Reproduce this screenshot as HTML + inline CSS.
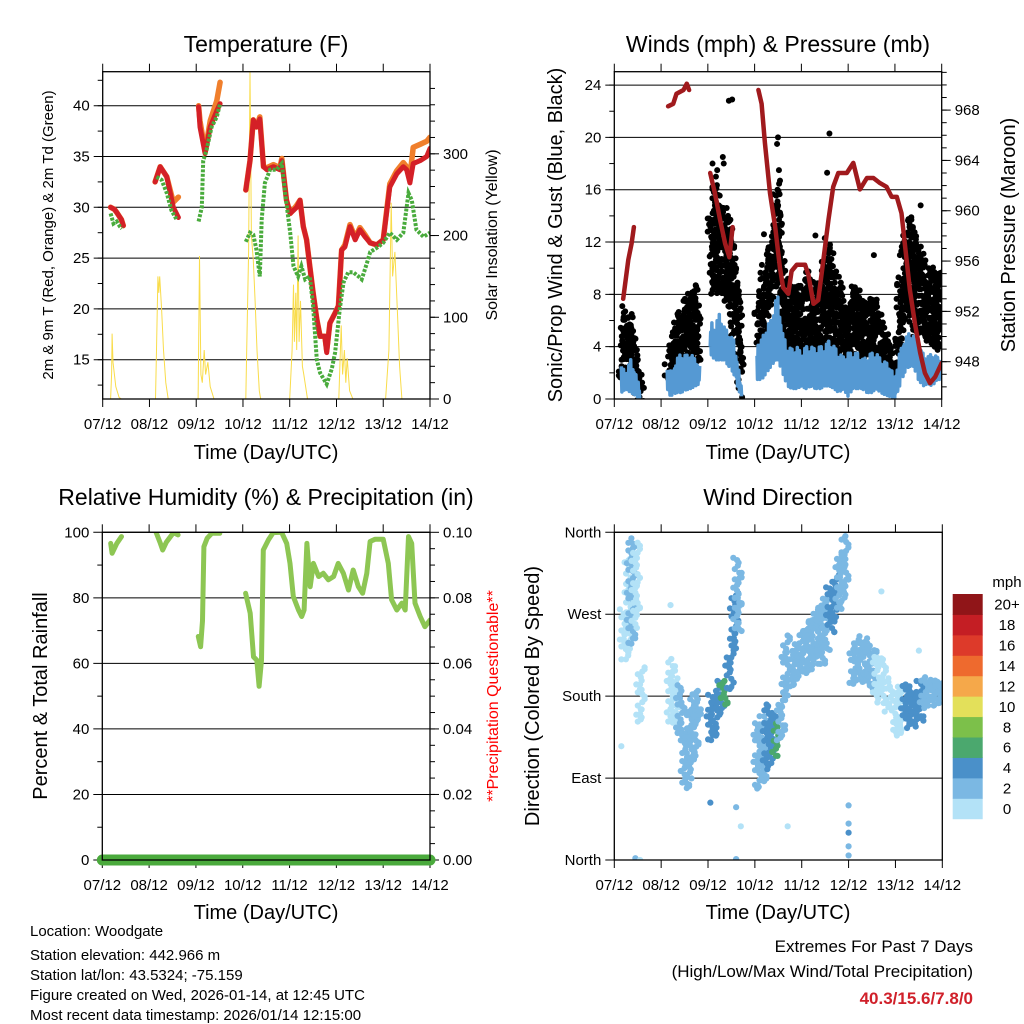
<!DOCTYPE html>
<html><head><meta charset="utf-8"><title>Station Meteogram</title>
<style>
html,body{margin:0;padding:0;background:#fff;}
svg{display:block;font-family:"Liberation Sans",Arial,sans-serif;}
</style></head>
<body>
<svg id="chart" xmlns="http://www.w3.org/2000/svg" width="1024" height="1024" viewBox="0 0 1024 1024">
<rect x="0" y="0" width="1024" height="1024" fill="#fff"/>
<text x="266" y="52" font-size="23" text-anchor="middle">Temperature (F)</text>
<text x="778" y="52" font-size="23" text-anchor="middle">Winds (mph) &amp; Pressure (mb)</text>
<text x="266" y="505" font-size="23" text-anchor="middle">Relative Humidity (%) &amp; Precipitation (in)</text>
<text x="778" y="505" font-size="23" text-anchor="middle">Wind Direction</text>
<text x="266" y="459" font-size="20" text-anchor="middle">Time (Day/UTC)</text>
<text x="778" y="459" font-size="20" text-anchor="middle">Time (Day/UTC)</text>
<text x="266" y="919" font-size="20" text-anchor="middle">Time (Day/UTC)</text>
<text x="778" y="919" font-size="20" text-anchor="middle">Time (Day/UTC)</text>
<text transform="translate(53,235) rotate(-90)" font-size="15" text-anchor="middle">2m &amp; 9m T (Red, Orange) &amp; 2m Td (Green)</text>
<text transform="translate(497,235) rotate(-90)" font-size="16" text-anchor="middle">Solar Insolation (Yellow)</text>
<text transform="translate(562,235) rotate(-90)" font-size="20" text-anchor="middle">Sonic/Prop Wind &amp; Gust (Blue, Black)</text>
<text transform="translate(1015,235) rotate(-90)" font-size="20" text-anchor="middle">Station Pressure (Maroon)</text>
<text transform="translate(47,696) rotate(-90)" font-size="20" text-anchor="middle">Percent &amp; Total Rainfall</text>
<text transform="translate(498,696) rotate(-90)" font-size="16" text-anchor="middle" fill="#ff0000">**Precipitation Questionable**</text>
<text transform="translate(539,696) rotate(-90)" font-size="20" text-anchor="middle">Direction (Colored By Speed)</text>
<g font-size="15">
<text x="30" y="936">Location: Woodgate</text>
<text x="30" y="960">Station elevation: 442.966 m</text>
<text x="30" y="980">Station lat/lon: 43.5324; -75.159</text>
<text x="30" y="1000">Figure created on Wed, 2026-01-14, at 12:45 UTC</text>
<text x="30" y="1020">Most recent data timestamp: 2026/01/14 12:15:00</text>
</g>
<text x="973" y="952" font-size="17" text-anchor="end">Extremes For Past 7 Days</text>
<text x="973" y="977" font-size="17" text-anchor="end">(High/Low/Max Wind/Total Precipitation)</text>
<text x="973" y="1004" font-size="17" font-weight="bold" fill="#d0202a" text-anchor="end">40.3/15.6/7.8/0</text>
<text x="1007" y="587" font-size="15" text-anchor="middle">mph</text>
</svg>
<script>
// ---------- data ----------
const dayLabels = ['07/12','08/12','09/12','10/12','11/12','12/12','13/12','14/12'];

const tTimes = [0.17,0.25,0.30,0.40,0.44, 0.8, 1.12,1.23,1.37,1.51,1.62, 1.9, 2.05,2.08,2.19,2.30,2.44,2.51, 2.8,
 3.06,3.15,3.22,3.29,3.36,3.44,3.51,3.65,3.79,3.83,3.93,4.01,4.15,4.22,4.29,4.36,4.43,4.50,4.58,4.65,4.75,4.79,4.86,4.97,5.04,5.11,5.18,5.29,5.40,5.50,5.61,5.72,5.86,6.00,6.14,6.29,6.43,6.50,6.57,6.64,6.79,6.93,7.0];
const tempRed = [30,29.8,29.5,28.8,28.2, null, 32.5,34,33,30,29, null, 39.9,37.9,35.3,37.9,39.5,40.2, null,
 31.7,34.6,38.6,37.9,38.7,34,33.7,34,33.7,34.6,30.7,29.4,30,30.7,28.1,26.8,24.2,21.6,19,17.3,17.3,15.7,18.6,19.6,20.3,25.8,26.1,28.1,26.8,27.8,27.1,26.5,26.3,26.8,32,33.3,34,33.7,32.4,34.3,34.6,35,35.8];
const tempOrange = [30,29.8,29.5,28.8,28.2, null, 32.5,34,33,30.5,31, null, 40,38.5,35.5,38.5,40.5,42.3, null,
 31.7,34.6,38.6,37.9,38.9,34,33.9,34.2,33.9,34.8,30.7,29.4,30.2,30.7,28.1,26.8,24.2,21.6,19,17.3,17.3,15.9,18.6,19.6,20.3,25.8,26.3,28.3,27,28,27.3,26.5,26.3,26.8,32.3,33.6,34.4,34,33,35.9,36.2,36.5,36.9];

const dTimes = [0.17,0.23,0.30,0.37,0.41, 0.8, 1.15,1.26,1.37,1.47,1.58, 1.9, 2.05,2.12,2.15,2.22,2.33,2.44,2.51, 2.8,
 3.06,3.15,3.22,3.29,3.36,3.40,3.47,3.58,3.72,3.83,3.90,4.01,4.08,4.18,4.25,4.33,4.43,4.50,4.58,4.65,4.79,4.90,4.97,5.07,5.15,5.25,5.36,5.47,5.54,5.65,5.72,5.86,6.00,6.14,6.29,6.43,6.54,6.61,6.71,6.86,7.0];
const dewPoint = [29.4,28.4,28.6,28.1,27.9, null, 33,32.7,31.4,29.7,28.8, null, 28.6,30,34.6,35.6,37.9,38.9,40.2, null,
 26.6,27.5,27.3,25.8,23.2,28.8,32.4,33.7,33.7,34.3,31.4,27.5,24.2,23.2,24.2,22.9,23.2,20.3,15,13.7,12.6,14.1,15.7,20,22.6,23.6,23.6,23.2,22.9,24.5,25.6,26,26.5,27.5,26.8,27.5,31.4,30.7,27.8,27.1,27.5];

const sTimes = [0.17,0.19,0.20,0.22,0.28,0.35,0.40, 0.7, 1.13,1.15,1.18,1.20,1.22,1.26,1.30,1.35,1.40, 1.7,
 2.04,2.05,2.07,2.10,2.13,2.17,2.20,2.25,2.30,2.38, 2.7, 3.06,3.08,3.12,3.15,3.18,3.22,3.26,3.30,3.35,3.38, 3.7,
 4.00,4.05,4.08,4.10,4.13,4.15,4.18,4.20,4.23,4.27,4.30,4.38, 4.7, 5.05,5.10,5.13,5.17,5.20,5.23,5.28,5.35, 5.7,
 6.05,6.12,6.17,6.20,6.25,6.30,6.35,6.40];
const solar = [0,30,80,45,15,2,0, null, 0,60,150,130,150,110,60,20,0, null,
 0,60,175,30,20,60,30,45,15,0, null, 0,60,180,400,200,170,120,60,10,0, null,
 0,60,140,70,130,60,200,70,120,40,30,0, null, 0,90,30,60,20,50,10,0, null,
 0,60,240,150,180,110,40,0];

const pTimes = [0.19,0.30,0.37,0.42, 0.8, 1.15,1.26,1.33,1.48,1.55,1.60, 1.8, 2.05,2.15,2.26,2.37,2.46,2.53, 2.8,
 3.08,3.15,3.22,3.33,3.44,3.54,3.61,3.72,3.79,3.90,4.08,4.15,4.26,4.36,4.47,4.58,4.68,4.79,4.97,5.11,5.25,5.40,5.54,5.68,5.82,5.93,6.04,6.14,6.22,6.32,6.43,6.54,6.64,6.75,6.86,7.0];
const pressure = [953,956.1,957.4,958.7, null, 968.3,968.5,969.3,969.6,970.1,969.6, null, 963,961.4,959.3,957.4,956.3,958.7, null,
 969.6,968.5,965.4,961.4,958.7,955.5,953.9,953.4,955.2,955.7,955.7,954.9,952.6,952.9,956.1,959.3,961.9,963,963,963.8,961.7,962.6,962.6,962.2,961.9,961.1,961.1,959.8,957.1,953.7,951,948.7,947.1,946.3,946.8,947.9];

const wTimes = [0.15,0.25,0.35,0.45,0.55, 0.9, 1.13,1.23,1.33,1.43,1.53,1.63,1.73,1.83, 1.95, 2.05,2.15,2.25,2.35,2.45,2.55,2.65,2.73, 2.9,
 3.05,3.15,3.25,3.35,3.45,3.5,3.6,3.7,3.8,3.9,4.0,4.1,4.2,4.3,4.4,4.5,4.6,4.7,4.8,4.9,5.0,5.1,5.2,5.3,5.4,5.5,5.6,5.7,5.8,5.9,6.0,6.1,6.2,6.3,6.4,6.5,6.6,6.7,6.8,6.9,7.0];
const windLow = [0.5,0.8,0.5,0.3,0, null, 0.3,0.3,0.5,0.5,0.7,0.8,1,1.2, null, 3.5,3,3,3,2.5,2,0.8,0, null,
 1.5,1.5,2,2.5,3,3,2,1,0.8,0.8,1,0.8,1,0.8,0.8,1,1,0.8,0.5,0.8,0.2,0.8,0.8,0.8,0.5,0.5,0.8,0.5,0.3,0.2,0,1,2,2.5,2.5,1.5,1,1.2,1,1.5,1.5];
const windHigh = [2.5,2,3,2,0.8, null, 2.5,2,3,3.5,3.3,3.5,3,2.5, null, 6,5.5,6.5,5.5,5,4.5,2.5,0.5, null,
 4.5,4.5,5.5,6,7.5,7.8,5,4,3.8,4,3.5,4,4,3.8,4,4,4.5,4,3.5,3.2,3.5,3.5,3.5,3,3.2,3.5,3.5,3,2.8,2.5,1.5,3.5,4.5,5,4.8,4,3.5,3.2,3.5,3.2,3];

const gTimes = [0.15,0.25,0.35,0.45,0.55,0.60, 0.9, 1.13,1.23,1.33,1.43,1.53,1.63,1.73,1.80, 1.95, 2.05,2.15,2.25,2.35,2.45,2.55,2.65,2.72, 2.9,
 3.05,3.15,3.25,3.35,3.45,3.5,3.6,3.7,3.8,3.9,4.0,4.1,4.2,4.3,4.4,4.5,4.6,4.7,4.8,4.9,5.0,5.1,5.2,5.3,5.4,5.5,5.6,5.7,5.8,5.9,6.0,6.1,6.2,6.3,6.4,6.5,6.6,6.7,6.8,6.9,7.0];
const gustLow = [1.5,2,1.5,0.5,0,0, null, 1.5,1.5,2,2.5,3,3.5,3,3, null, 8,9,8,8,7,5,2,0, null,
 4,4,6,8,9,9,4,3,3,3,2.5,3,3,2.5,3,4,4,3,3,2.5,2,2.5,2.5,2.5,2,2,2,2,1.5,1,1,4,6,7,5,5,5,5,4,4,4];
const gustHigh = [7.5,5.5,6.5,4,1.5,0.5, null, 3,5,6.5,6.5,8,7.5,9,8, null, 14,17,15,15,14,11,8,4, null,
 7,9,11,12,16,17,10,9,9,9,8,10,9,9,9,11,12,10,9,7,7,9,8,8,7,8,8,6,5,4,3,9,12,14,13,12,11,10,10,10,10];
const gustOutT = [2.10,2.20,2.32,2.34,2.45,2.52,3.20,3.48,3.50,3.52,4.30,4.50,4.55,4.60,5.55,6.35,6.55];
const gustOutV = [18,17.5,18.5,18,22.8,22.9,12.6,19.5,20,17.5,12.5,12.3,17.3,20.3,11,13.9,14.8];

const rhTimes = [0.18,0.21,0.31,0.41, 0.8, 1.15,1.23,1.29,1.37,1.52,1.62, 1.9, 2.05,2.10,2.14,2.17,2.24,2.34,2.51, 2.8,
 3.06,3.16,3.23,3.30,3.35,3.40,3.44,3.55,3.65,3.83,3.94,4.01,4.08,4.19,4.26,4.31,4.37,4.44,4.51,4.62,4.72,4.83,4.94,5.04,5.15,5.26,5.36,5.47,5.56,5.65,5.72,5.83,6.0,6.11,6.18,6.29,6.40,6.47,6.54,6.61,6.68,6.79,6.89,7.0];
const relHum = [96.6,93.6,96.6,98.7, null, 100,97,94.6,97,99.9,99.2, null, 68.2,65.1,73,95.6,98.2,99.7,99.7, null,
 81.4,75.3,62,61,53,61,94.6,97.7,99.9,100,96.6,90.5,80.4,76.3,74.3,76.3,96.6,83.4,90.5,86.5,87.5,85.5,86.5,90.5,87.5,82.4,88.5,83.4,81.4,87.5,97.2,97.9,97.9,90.5,79.4,76.3,78.4,76.3,98.7,96.6,78.4,74.3,71.2,73.2];

const pcpTimes = [0, 7];
const precip = [0, 0];

const dirTimes = [0.2,0.3,0.35,0.45,0.55, 1.2,1.3,1.4,1.5,1.6,1.7,1.75, 2.05,2.15,2.25,2.32,2.45,2.55,2.62,
 3.05,3.15,3.25,3.35,3.45,3.55,3.65, 3.8,3.9,4.0,4.1,4.2,4.3,4.4,4.5,4.6,4.7,4.8,4.9,
 5.1,5.2,5.3,5.4,5.5,5.6,5.7,5.85, 6.0,6.1,6.2,6.3,6.4,6.5,6.6,6.7,6.8,6.9,7.0];
const dirLow = [220,230,238,257,150, 150,150,130,77,90,110,150, 132,135,160,170,187,231,250,
 77,85,100,106,114,130,180, 190,195,205,205,209,215,215,230,250,264,275,285,
 194,195,194,190,185,175,172,165, 136,140,147,150,145,155,165,170,170,172,175];
const dirHigh = [275,330,355,348,210, 220,200,190,147,165,175,185, 180,180,195,195,231,293,330,
 150,160,172,165,150,180,246, 230,240,250,260,268,275,280,290,300,312,340,355,
 238,245,245,240,235,225,224,200, 187,190,194,190,185,195,200,195,200,195,192];
const dirSpeed = [0,0,1,0,0, 0,0,1,1,1,1,1, 2,2,2,3,2,2,1,
 1,1,2,2,3,1,1, 1,1,1,1,1,1,1,1,2,2,1,1,
 1,1,1,1,1,0,0,0, 0,0,2,2,2,2,1,1,1,1,1];
const dirOutT = [5.0,5.0,5.0,5.0,5.0,0.45,0.55,2.6,2.05,2.6,2.7,3.7,1.2,0.15,5.7,6.5];
const dirOutV = [5,15,30,40,60,2,0,1,63,58,37,37,280,125,295,230];
const dirOutS = [1,1,2,1,1,1,0,1,2,1,0,0,0,0,0,0];

const cbLabels = ['0','2','4','6','8','10','12','14','16','18','20+'];
const cbColors = ['#b3e2f7','#7bb8e3','#4a90c9','#4ba86e','#7cc04a','#e3e05a','#f5a84a','#ee6a2e','#dd3a2a','#c41e24','#901518'];

// ---------- helpers ----------
const NS = 'http://www.w3.org/2000/svg';
const svg = document.getElementById('chart');
function mk(tag, attrs, parent) {
  const e = document.createElementNS(NS, tag);
  for (const k in attrs) e.setAttribute(k, attrs[k]);
  (parent || svg).appendChild(e);
  return e;
}
function makeX(p) { return d => p.x0 + d * (p.x1 - p.x0) / 7; }
function pathOf(ts, vs, sx, sy) {
  let s = '', pen = false;
  for (let i = 0; i < ts.length; i++) {
    if (vs[i] === null) { pen = false; continue; }
    s += (pen ? 'L' : 'M') + sx(ts[i]).toFixed(1) + ',' + sy(vs[i]).toFixed(1);
    pen = true;
  }
  return s;
}
// deterministic scatter offset (rendering only), in [-0.5, 0.5]
function jig(n, m) { return (((n * n * 31 + n * 17 + 7) % m) / (m - 1)) - 0.5; }

const P1 = {x0:102.7, x1:430, y0:71.7, y1:399, name:'temperature'};
const P2 = {x0:614.3, x1:941.7, y0:71.7, y1:399, name:'winds'};
const P3 = {x0:102.3, x1:430, y0:532.3, y1:860, name:'humidity'};
const P4 = {x0:614.3, x1:942.3, y0:532.3, y1:860, name:'wind-direction'};

const y1L = v => 359.7 - (v - 15) * 10.16;
const y1R = v => 399 - v * 0.8173;
const y2L = v => 399 - v * 13.08;
const y2R = v => 361.7 - (v - 948) * 12.58;
const y3L = v => 860 - v * 3.277;
const y3R = v => 860 - v * 3277;
const y4L = v => 860 - v * 0.9103;

function axes(p, leftMajor, leftLabels, leftMinor, yl, rightMajor, rightLabels, rightMinor, yr) {
  const g = mk('g', {});
  
  
  const sx = makeX(p);
  for (let i = 0; i < leftMajor.length; i++) {
    const y = yl(leftMajor[i]);
    const gl = mk('line', {x1:p.x0-9, x2:p.x1, y1:y, y2:y, stroke:'#000', 'stroke-width':1}, g);
    
    
    const t = mk('text', {x:p.x0-13, y:y+5, 'font-size':15, 'text-anchor':'end'}, g);
    t.textContent = leftLabels[i];
    
    
  }
  for (const v of leftMinor) {
    const y = yl(v);
    if (y < p.y0 || y > p.y1) continue;
    const m = mk('line', {x1:p.x0-5, x2:p.x0, y1:y, y2:y, stroke:'#000', 'stroke-width':1}, g);
    
    
  }
  if (yr) {
    for (let i = 0; i < rightMajor.length; i++) {
      const y = yr(rightMajor[i]);
      const tk = mk('line', {x1:p.x1, x2:p.x1+9, y1:y, y2:y, stroke:'#000', 'stroke-width':1}, g);
      
      
      const t = mk('text', {x:p.x1+13, y:y+5, 'font-size':15}, g);
      t.textContent = rightLabels[i];
      
      
    }
    for (const v of rightMinor) {
      const y = yr(v);
      if (y < p.y0 || y > p.y1) continue;
      const m = mk('line', {x1:p.x1, x2:p.x1+5, y1:y, y2:y, stroke:'#000', 'stroke-width':1}, g);
      
      
    }
  }
  for (let d = 0; d <= 7; d++) {
    const x = sx(d);
    const tb = mk('line', {x1:x, x2:x, y1:p.y1, y2:p.y1+8, stroke:'#000', 'stroke-width':1}, g);
    
    
    const tt = mk('line', {x1:x, x2:x, y1:p.y0-8, y2:p.y0, stroke:'#000', 'stroke-width':1}, g);
    
    
    const lb = mk('text', {x:x, y:p.y1+30, 'font-size':15, 'text-anchor':'middle'}, g);
    lb.textContent = dayLabels[d];
    
    
  }
  const cp = mk('clipPath', {id:'clip-' + p.name});
  mk('rect', {x:p.x0, y:p.y0, width:p.x1-p.x0, height:p.y1-p.y0}, cp);
  return sx;
}
function frame(p) {
  const f = mk('rect', {x:p.x0, y:p.y0, width:p.x1-p.x0, height:p.y1-p.y0, fill:'none', stroke:'#000', 'stroke-width':1.3});
  
  
}
function rng(a, b, s) { const r = []; for (let v = a; v <= b + 1e-9; v += s) r.push(+v.toFixed(4)); return r; }

// ---------- panel 1: temperature ----------
let sx = axes(P1, [15,20,25,30,35,40], ['15','20','25','30','35','40'], rng(12.5,42.5,2.5), y1L,
  [0,100,200,300], ['0','100','200','300'], rng(20,380,20), y1R);
let gp = mk('g', {'clip-path':'url(#clip-temperature)'});
const solarLine = mk('path', {d:pathOf(sTimes, solar, sx, y1R), fill:'none', stroke:'#f9dc4a', 'stroke-width':1}, gp);


const orangeLine = mk('path', {d:pathOf(tTimes, tempOrange, sx, y1L), fill:'none', stroke:'#f07f2c', 'stroke-width':5.5, 'stroke-linejoin':'round', 'stroke-linecap':'round'}, gp);


const redLine = mk('path', {d:pathOf(tTimes, tempRed, sx, y1L), fill:'none', stroke:'#d42027', 'stroke-width':5, 'stroke-linejoin':'round', 'stroke-linecap':'round'}, gp);


const dewLine = mk('path', {d:pathOf(dTimes, dewPoint, sx, y1L), fill:'none', stroke:'#49ab3c', 'stroke-width':4, 'stroke-dasharray':'3 1.5'}, gp);


frame(P1);

// ---------- panel 2: winds & pressure ----------
sx = axes(P2, [0,4,8,12,16,20,24], ['0','4','8','12','16','20','24'], rng(2,24,2), y2L,
  [948,952,956,960,964,968], ['948','952','956','960','964','968'], rng(946,971,1), y2R);
gp = mk('g', {'clip-path':'url(#clip-winds)'});
const gustG = mk('g', {fill:'#000'}, gp);


let nDot = 0;
for (let i = 0; i + 1 < gTimes.length; i++) {
  if (gustLow[i] === null || gustLow[i+1] === null) continue;
  for (let t = gTimes[i]; t < gTimes[i+1] - 1e-6; t += 0.03) {
    const f = (t - gTimes[i]) / (gTimes[i+1] - gTimes[i]);
    const lo = gustLow[i] + f * (gustLow[i+1] - gustLow[i]);
    const hi = gustHigh[i] + f * (gustHigh[i+1] - gustHigh[i]);
    for (let v = lo; v <= hi; v += 0.55) {
      nDot++;
      const cx = sx(t) + jig(nDot, 11) * 5;
      const cy = y2L(v + jig(nDot * 3 + 1, 13) * 0.6);
      const c = mk('circle', {cx:cx.toFixed(1), cy:cy.toFixed(1), r:3}, gustG);
      
      
    }
  }
}
for (let i = 0; i < gustOutT.length; i++) {
  const c = mk('circle', {cx:sx(gustOutT[i]), cy:y2L(gustOutV[i]), r:3}, gustG);
  
  
}
// sonic wind: jagged trace inside the low/high envelope
{
  let d = '', pen = false, k = 0;
  for (let i = 0; i + 1 < wTimes.length; i++) {
    if (windLow[i] === null || windLow[i+1] === null) { pen = false; continue; }
    for (let t = wTimes[i]; t < wTimes[i+1] - 1e-6; t += 0.012) {
      const f = (t - wTimes[i]) / (wTimes[i+1] - wTimes[i]);
      const lo = windLow[i] + f * (windLow[i+1] - windLow[i]);
      const hi = windHigh[i] + f * (windHigh[i+1] - windHigh[i]);
      k++;
      const frac = (k % 2) ? 0.8 + jig(k, 7) * 0.4 : 0.2 + jig(k, 5) * 0.4;
      const v = lo + (hi - lo) * frac;
      d += (pen ? 'L' : 'M') + sx(t).toFixed(1) + ',' + y2L(v).toFixed(1);
      pen = true;
    }
  }
  const band = mk('path', {d:d, fill:'none', stroke:'#5599d3', 'stroke-width':3.5, 'stroke-linejoin':'round'}, gp);
  
  
}
const presLine = mk('path', {d:pathOf(pTimes, pressure, sx, y2R), fill:'none', stroke:'#a01a1d', 'stroke-width':4.5, 'stroke-linejoin':'round', 'stroke-linecap':'round'}, gp);


frame(P2);

// ---------- panel 3: humidity & precipitation ----------
sx = axes(P3, [0,20,40,60,80,100], ['0','20','40','60','80','100'], rng(10,90,20), y3L,
  [0,0.02,0.04,0.06,0.08,0.10], ['0.00','0.02','0.04','0.06','0.08','0.10'], rng(0.005,0.095,0.005), y3R);
gp = mk('g', {'clip-path':'url(#clip-humidity)'});
const rhLine = mk('path', {d:pathOf(rhTimes, relHum, sx, y3L), fill:'none', stroke:'#8dc653', 'stroke-width':5, 'stroke-linejoin':'round', 'stroke-linecap':'round'}, gp);


const pcpLine = mk('path', {d:pathOf(pcpTimes, precip, sx, y3R), fill:'none', stroke:'#4aaa3c', 'stroke-width':11, 'stroke-linecap':'round'});


frame(P3);

// ---------- panel 4: wind direction ----------
sx = axes(P4, [0,90,180,270,360], ['North','East','South','West','North'], [], y4L, [], [], [], null);
gp = mk('g', {'clip-path':'url(#clip-wind-direction)'});
const dirG = mk('g', {}, gp);


let nDir = 0;
for (let i = 0; i < dirTimes.length; i++) {
  for (let v = dirLow[i]; v <= dirHigh[i]; v += 2.5) {
    nDir++;
    const cx = sx(dirTimes[i]) + jig(nDir, 13) * 9;
    const cy = y4L(v + jig(nDir * 5 + 2, 11) * 4);
    const dot = mk('circle', {cx:cx.toFixed(1), cy:cy.toFixed(1), r:3.1, fill:cbColors[dirSpeed[i]]}, dirG);
    
    
  }
}
for (let i = 0; i < dirOutT.length; i++) {
  const dot = mk('circle', {cx:sx(dirOutT[i]), cy:y4L(dirOutV[i]), r:3.1, fill:cbColors[dirOutS[i]]}, dirG);
  
  
}
frame(P4);

// colorbar
const cbTop = 594, cbH = 20.43, cbX = 952.7, cbW = 30;
for (let i = 0; i < cbLabels.length; i++) {
  const y = cbTop + (cbLabels.length - 1 - i) * cbH;
  const r = mk('rect', {x:cbX, y:y, width:cbW, height:cbH + 0.5, fill:cbColors[i]});
  
  
  const t = mk('text', {x:1007, y:y + cbH/2 + 5.5, 'font-size':15, 'text-anchor':'middle'});
  t.textContent = cbLabels[i];
  
  
}
</script>
</body></html>
